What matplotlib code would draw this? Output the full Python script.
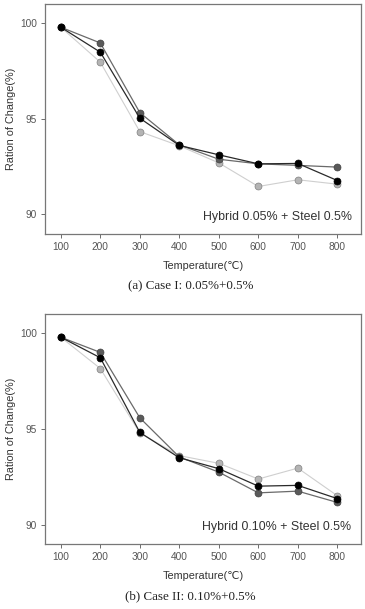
import matplotlib
matplotlib.use("Agg")
import matplotlib.pyplot as plt

plt.rcParams['font.family'] = ['Liberation Sans', 'DejaVu Sans']

temperature = [100, 200, 300, 400, 500, 600, 700, 800]

# Case I: Hybrid 0.05% + Steel 0.5%
case1_black = [99.76, 98.46, 95.02, 93.60, 93.11, 92.64, 92.66, 91.77]
case1_dark = [99.76, 98.94, 95.31, 93.63, 92.88, 92.64, 92.56, 92.47]
case1_light = [99.76, 97.94, 94.32, 93.58, 92.69, 91.46, 91.81, 91.58]

# Case II: Hybrid 0.10% + Steel 0.5%
case2_black = [99.76, 98.69, 94.80, 93.48, 92.91, 92.00, 92.04, 91.35]
case2_dark = [99.76, 98.97, 95.56, 93.52, 92.73, 91.65, 91.74, 91.15]
case2_light = [99.76, 98.13, 94.77, 93.59, 93.19, 92.37, 92.94, 91.50]

x_ticks = [100, 200, 300, 400, 500, 600, 700, 800]
y_ticks = [90, 95, 100]

panels = [
    (case1_black, case1_dark, case1_light, "Hybrid 0.05% + Steel 0.5%",
     "(a) Case I: 0.05%+0.5%"),
    (case2_black, case2_dark, case2_light, "Hybrid 0.10% + Steel 0.5%",
     "(b) Case II: 0.10%+0.5%"),
]

fig = plt.figure(figsize=(3.65, 6.09), dpi=100)
positions = [[0.1233, 0.6163, 0.8658, 0.3771],
             [0.1233, 0.1072, 0.8658, 0.3772]]

for pos, (blk, drk, lgt, note, caption) in zip(positions, panels):
    ax = fig.add_axes(pos)
    ax.plot(temperature, lgt, color='#cfcfcf', lw=0.8, marker='o', ms=5,
            mfc='#b4b4b4', mec='#808080', mew=0.5, zorder=2)
    ax.plot(temperature, drk, color='#6a6a6a', lw=0.9, marker='o', ms=5,
            mfc='#5a5a5a', mec='#404040', mew=0.5, zorder=3)
    ax.plot(temperature, blk, color='#2a2a2a', lw=0.9, marker='o', ms=5,
            mfc='#000000', mec='#000000', mew=0.5, zorder=4)
    ax.set_xlim(60, 860)
    ax.set_ylim(89, 100.97)
    ax.set_xticks(x_ticks)
    ax.set_yticks(y_ticks)
    ax.tick_params(direction='out', length=3, width=0.6, labelsize=7.3,
                   colors='#555555', pad=3)
    for s in ax.spines.values():
        s.set_color('#777777')
        s.set_linewidth(0.9)
    ax.set_xlabel("Temperature(℃)", fontsize=7.8, color='#333333')
    ax.xaxis.set_label_coords(0.5, -0.118)
    ax.set_ylabel("Ration of Change(%)", fontsize=7.8, color='#333333')
    ax.yaxis.set_label_coords(-0.093, 0.5)
    ax.text(0.97, 0.045, note, transform=ax.transAxes, ha='right', va='bottom',
            fontsize=8.9, color='#333333')
    ax.text(0.46, -0.23, caption, transform=ax.transAxes, ha='center',
            va='center', fontsize=9.4, family='Liberation Serif', color='#222222')

fig.savefig("out.png", dpi=100)
